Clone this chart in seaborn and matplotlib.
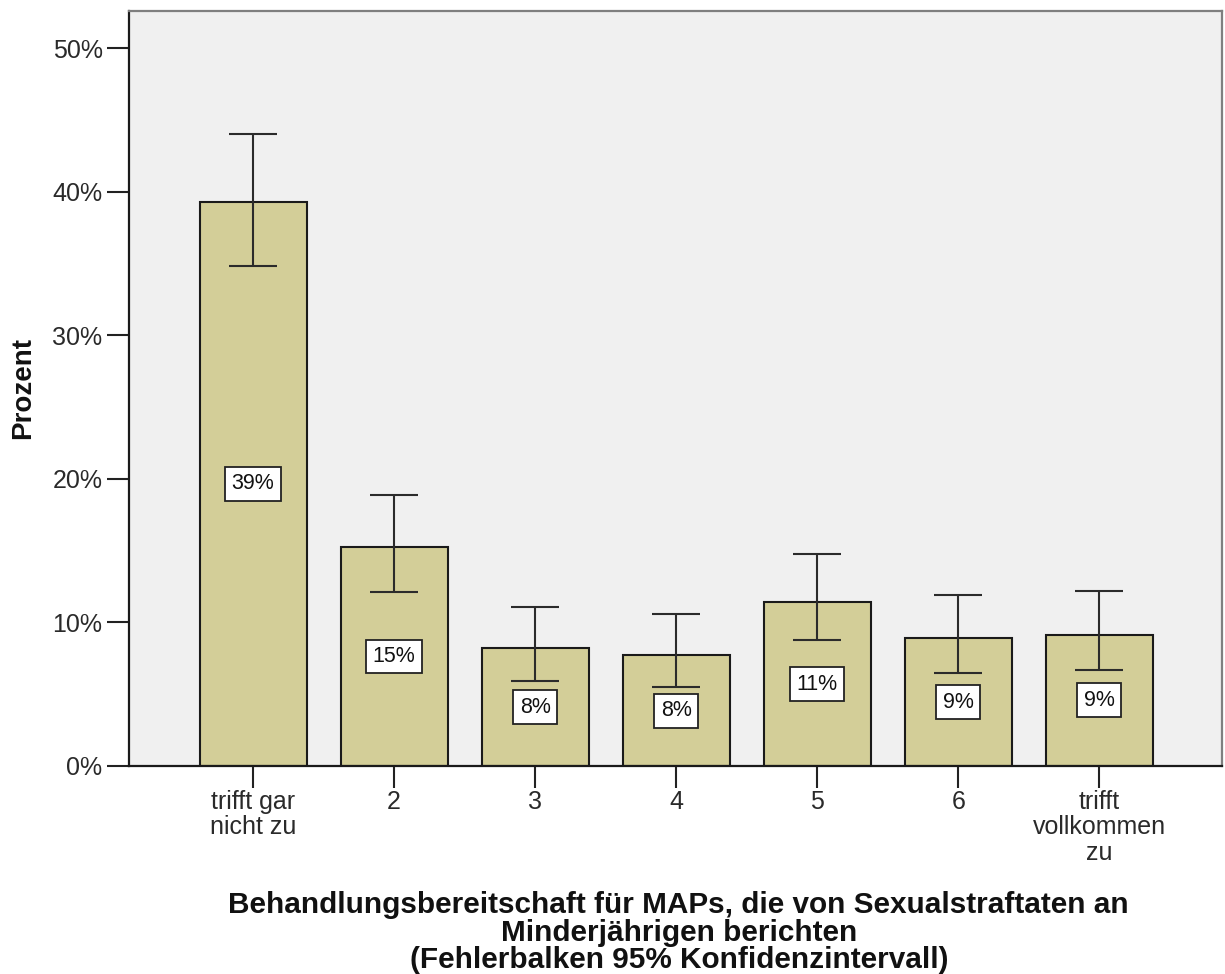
import matplotlib
matplotlib.use("Agg")
import matplotlib.pyplot as plt
import seaborn as sns
import pandas as pd

# Response categories of the rating scale
categories = ["trifft gar\nnicht zu", "2", "3", "4", "5", "6", "trifft\nvollkommen\nzu"]
# Share of respondents per category (percent)
percent = [39.3, 15.25, 8.2, 7.7, 11.4, 8.9, 9.15]
# 95% confidence interval bounds (percent)
ci_low = [34.8, 12.1, 5.9, 5.5, 8.8, 6.5, 6.7]
ci_high = [44.0, 18.9, 11.1, 10.6, 14.8, 11.9, 12.2]
y_ticks = [0, 10, 20, 30, 40, 50]

sns.set_theme(style="white")
plt.rcParams["font.family"] = ["Liberation Sans", "DejaVu Sans"]

df = pd.DataFrame({"Kategorie": categories, "Prozent": percent})

fig = plt.figure(figsize=(12.25, 9.74), dpi=100)
ax = fig.add_axes([0.1053, 0.2136, 0.8923, 0.7751])
ax.set_facecolor("#F0F0F0")

sns.barplot(data=df, x="Kategorie", y="Prozent", color="#D3CE98",
            saturation=1, width=0.76, edgecolor="#1a1a1a", linewidth=1.5,
            errorbar=None, ax=ax)

xs = list(range(len(categories)))
lower_err = [p - lo for p, lo in zip(percent, ci_low)]
upper_err = [hi - p for p, hi in zip(percent, ci_high)]
ax.errorbar(xs, percent, yerr=[lower_err, upper_err], fmt="none",
            ecolor="#2b2b2b", elinewidth=1.5, capsize=17.5, capthick=1.5,
            zorder=5)

# value boxes in the middle of each bar
for x, p in zip(xs, percent):
    ax.text(x, p / 2, f"{p:.0f}%", ha="center", va="center", fontsize=15.5,
            color="#111111", zorder=6,
            bbox=dict(boxstyle="square,pad=0.3", facecolor="white",
                      edgecolor="#222222", linewidth=1.3))

ax.set_xlim(-0.88, 6.87)
ax.set_ylim(0, 52.6)
ax.set_yticks(y_ticks)
ax.set_yticklabels([f"{t}%" for t in y_ticks])

ax.tick_params(axis="both", which="both", direction="out", length=16,
               width=1.5, color="#222222", labelsize=18, labelcolor="#2a2a2a",
               left=True, bottom=True)
ax.tick_params(axis="y", pad=3)
ax.tick_params(axis="x", pad=1)
for lab in ax.get_xticklabels():
    lab.set_linespacing(1.08)

for side in ["left", "bottom"]:
    ax.spines[side].set_color("#1a1a1a")
    ax.spines[side].set_linewidth(1.6)
for side in ["top", "right"]:
    ax.spines[side].set_color("#7f7f7f")
    ax.spines[side].set_linewidth(1.6)

ax.set_ylabel("Prozent", fontsize=20, fontweight="bold", color="#111111")
ax.yaxis.set_label_coords(-0.085, 0.5)
ax.set_xlabel("Behandlungsbereitschaft für MAPs, die von Sexualstraftaten an\n"
              "Minderjährigen berichten\n(Fehlerbalken 95% Konfidenzintervall)",
              fontsize=21.4, fontweight="bold", color="#111111",
              linespacing=0.97)
ax.xaxis.set_label_coords(0.503, -0.166)

fig.savefig("out.png", dpi=100, facecolor="white")
